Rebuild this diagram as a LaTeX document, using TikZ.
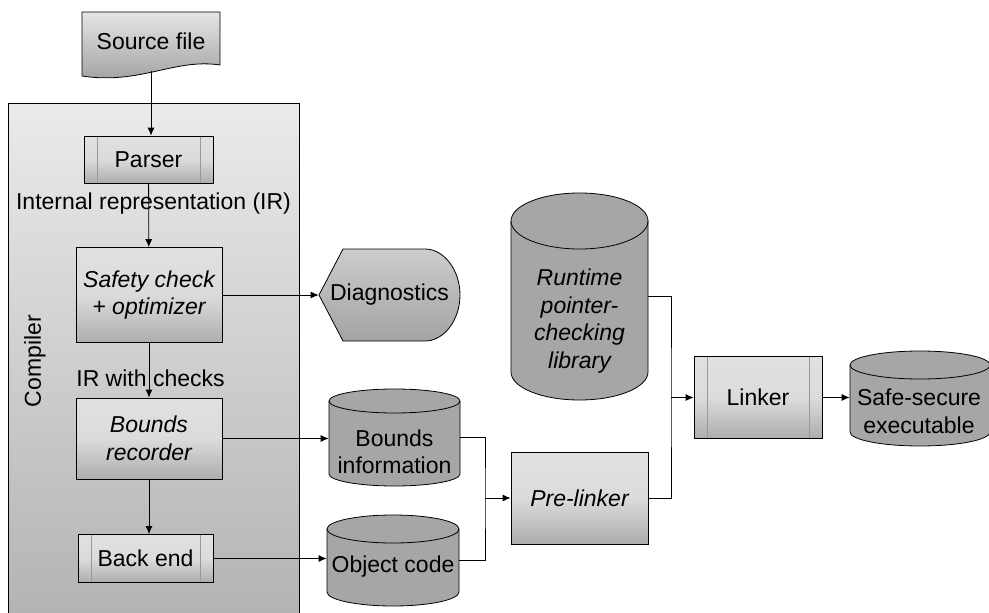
\documentclass[tikz,border=0pt]{standalone}
\usepackage{fontspec}
\setmainfont{Liberation Sans}
\usetikzlibrary{positioning,arrows.meta}

% name, left, right, top, bottom, ellipse radius
\newcommand{\dbnode}[6]{%
  \path[db] (#2,#4+#6) -- (#2,#5-#6)
     arc[start angle=180, end angle=0, x radius={(#3-#2)/2}, y radius=#6]
     -- (#3,#4+#6)
     arc[start angle=0, end angle=-180, x radius={(#3-#2)/2}, y radius=#6] -- cycle;
  \draw (#2,#4+#6) arc[start angle=180, end angle=0, x radius={(#3-#2)/2}, y radius=#6];
  \node[inner sep=0pt, minimum width={(#3-#2)*1pt}, minimum height={(#5-#4)*1pt}] (#1) at ({(#2+#3)/2},{(#4+#5)/2}) {};
}

\begin{document}
\begin{tikzpicture}[
            x=1pt, y=-1pt,
            font=\fontsize{23}{27.5}\selectfont,
            line width=0.8pt,
            ital/.style={font=\fontsize{23}{27.5}\selectfont\itshape},
            box/.style={draw, rectangle, align=center, inner sep=0pt, top color=black!12, bottom color=black!32, middle color=black!14},
            subproc/.style={box, path picture={
                \draw[black!40] ([xshift=13pt]path picture bounding box.north west) -- ([xshift=13pt]path picture bounding box.south west);
                \draw[black!40] ([xshift=-13pt]path picture bounding box.north east) -- ([xshift=-13pt]path picture bounding box.south east);}},
            db/.style={draw, fill=black!35},
            arrow/.style={-{Latex[length=8pt,width=7pt]}}
        ]
            \useasboundingbox (0,0) rectangle (989,613);

            % --- COMPILER ---
            \node[draw, anchor=north west, inner sep=0pt, minimum width=291pt, minimum height=520pt, top color=black!8, bottom color=black!30] (compiler) at (8,103) {};
            \node[rotate=90] (compiler-lbl) at (35,361) {Compiler};

            % source document
            \path[draw, top color=black!10, bottom color=black!38] (82,12) -- (220,12) -- (220,65) .. controls (175,58) and (140,85) .. (82,76) -- cycle;
            \node[minimum width=138pt, minimum height=60pt] (src) at (151,41) {Source file};

            \node[subproc, minimum width=129pt, minimum height=47pt] (parser) at (148.5,159.5) {Parser};
            \node (ir-lbl) at (153.5,204) {Internal representation (IR)};
            \node[box, ital, minimum width=146pt, minimum height=95pt] (safety) at (149,295) {Safety check\\+ optimizer};
            \node (irc-lbl) at (150.5,378) {IR with checks};
            \node[box, ital, minimum width=146pt, minimum height=81pt] (brec) at (149,438.5) {Bounds\\recorder};
            \node[subproc, minimum width=135pt, minimum height=48pt] (bend) at (145.5,558.5) {Back end};

            % --- OUTPUTS ---
            \path[draw, top color=black!20, bottom color=black!36] (319,295) -- (343,249) -- (425,249) .. controls (444,249) and (460,270) .. (460,295) .. controls (460,320) and (444,341) .. (425,341) -- (343,341) -- cycle;
            \node[minimum width=141pt, minimum height=92pt] (diag) at (389.5,295) {Diagnostics};

            \dbnode{binfo}{329}{460}{389}{486}{12}
            \node[align=center] (binfo-lbl) at (394.5,452) {Bounds\\information};
            \dbnode{objcode}{327}{459}{515}{606}{14}
            \node (objcode-lbl) at (393,567) {Object code};

            % --- LINKING ---
            \dbnode{runtime}{511}{648}{193}{400}{28}
            \node[ital, align=center] (runtime-lbl) at (579.5,321) {Runtime\\pointer-\\checking\\library};
            \node[box, ital, minimum width=137pt, minimum height=92pt] (prelink) at (579.5,498) {Pre-linker};
            \node[subproc, minimum width=128pt, minimum height=82pt] (linker) at (758,397.5) {Linker};
            \dbnode{safe}{850}{990}{351}{446}{14}
            \node[align=center] (safe-lbl) at (919,411.5) {Safe-secure\\executable};

            % arrows
            \draw[arrow] (src) -- (src |- parser.north);
            \draw[arrow] (parser) -- (safety);
            \draw[arrow] (safety) -- (diag);
            \draw[arrow] (safety) -- (brec);
            \draw[arrow] (brec) -- (brec |- bend.north);
            \draw[arrow] (brec) -- (brec -| binfo.west);
            \draw[arrow] (bend) -- (bend -| objcode.west);

            \coordinate (j1) at (485,498);
            \draw (binfo) -| (j1) |- (objcode);
            \draw[arrow] (j1) -- (prelink);
            \coordinate (j2) at (671,397.5);
            \draw (runtime) -| (j2) |- (prelink);
            \draw[arrow] (j2) -- (linker);
            \draw[arrow] (linker) -- (linker -| safe.west);

        \end{tikzpicture}
\end{document}
